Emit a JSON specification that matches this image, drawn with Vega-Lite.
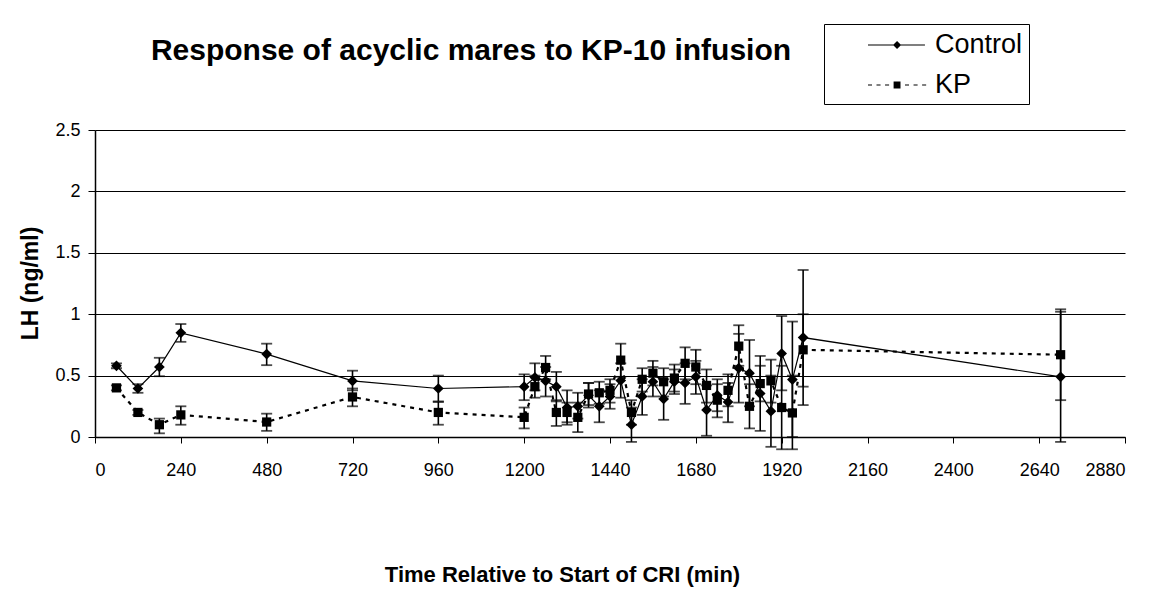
{
  "$schema": "https://vega.github.io/schema/vega-lite/v6.json",
  "width": 1030,
  "height": 307,
  "autosize": {"type": "none"},
  "padding": {"left": 95, "top": 130, "right": 25, "bottom": 174},
  "background": "white",
  "title": {
    "text": "Response of acyclic mares to KP-10 infusion",
    "font": "Liberation Sans",
    "fontSize": 30,
    "fontWeight": "bold",
    "color": "black",
    "anchor": "middle",
    "frame": "group",
    "dx": -139,
    "offset": -42
  },
  "config": {
    "view": {"stroke": null},
    "font": "Liberation Sans",
    "axis": {
      "labelFont": "Liberation Sans",
      "titleFont": "Liberation Sans",
      "labelColor": "black",
      "titleColor": "black",
      "domainColor": "black",
      "tickColor": "black",
      "domainWidth": 1.5,
      "tickWidth": 1
    }
  },
  "data": {
    "values": [
      {"t": 60, "s": "Control", "v": 0.58, "lo": 0.56, "hi": 0.6},
      {"t": 120, "s": "Control", "v": 0.395, "lo": 0.36, "hi": 0.43},
      {"t": 180, "s": "Control", "v": 0.57, "lo": 0.495, "hi": 0.645},
      {"t": 240, "s": "Control", "v": 0.848, "lo": 0.775, "hi": 0.92},
      {"t": 480, "s": "Control", "v": 0.675, "lo": 0.585, "hi": 0.76},
      {"t": 720, "s": "Control", "v": 0.457, "lo": 0.38, "hi": 0.54},
      {"t": 960, "s": "Control", "v": 0.395, "lo": 0.29, "hi": 0.5},
      {"t": 1200, "s": "Control", "v": 0.41, "lo": 0.3, "hi": 0.51},
      {"t": 1230, "s": "Control", "v": 0.485, "lo": 0.38, "hi": 0.6},
      {"t": 1260, "s": "Control", "v": 0.457, "lo": 0.33, "hi": 0.57},
      {"t": 1290, "s": "Control", "v": 0.41, "lo": 0.29, "hi": 0.53},
      {"t": 1320, "s": "Control", "v": 0.24, "lo": 0.1, "hi": 0.38},
      {"t": 1350, "s": "Control", "v": 0.25, "lo": 0.15, "hi": 0.36},
      {"t": 1380, "s": "Control", "v": 0.34, "lo": 0.24, "hi": 0.44},
      {"t": 1410, "s": "Control", "v": 0.25, "lo": 0.12, "hi": 0.38},
      {"t": 1440, "s": "Control", "v": 0.33, "lo": 0.23, "hi": 0.43},
      {"t": 1470, "s": "Control", "v": 0.46, "lo": 0.32, "hi": 0.6},
      {"t": 1500, "s": "Control", "v": 0.1, "lo": -0.04, "hi": 0.24},
      {"t": 1530, "s": "Control", "v": 0.33, "lo": 0.18, "hi": 0.47},
      {"t": 1560, "s": "Control", "v": 0.45, "lo": 0.33, "hi": 0.57},
      {"t": 1590, "s": "Control", "v": 0.31, "lo": 0.14, "hi": 0.47},
      {"t": 1620, "s": "Control", "v": 0.45, "lo": 0.35, "hi": 0.55},
      {"t": 1650, "s": "Control", "v": 0.44, "lo": 0.27, "hi": 0.6},
      {"t": 1680, "s": "Control", "v": 0.49, "lo": 0.35, "hi": 0.62},
      {"t": 1710, "s": "Control", "v": 0.22, "lo": 0.01, "hi": 0.42},
      {"t": 1740, "s": "Control", "v": 0.34, "lo": 0.21, "hi": 0.47},
      {"t": 1770, "s": "Control", "v": 0.285, "lo": 0.12, "hi": 0.44},
      {"t": 1800, "s": "Control", "v": 0.56, "lo": 0.28, "hi": 0.84},
      {"t": 1830, "s": "Control", "v": 0.52, "lo": 0.25, "hi": 0.79},
      {"t": 1860, "s": "Control", "v": 0.354, "lo": 0.05, "hi": 0.66},
      {"t": 1890, "s": "Control", "v": 0.21, "lo": -0.08, "hi": 0.5},
      {"t": 1920, "s": "Control", "v": 0.68, "lo": 0.38, "hi": 0.985},
      {"t": 1950, "s": "Control", "v": 0.468, "lo": 0.0, "hi": 0.94},
      {"t": 1980, "s": "Control", "v": 0.81, "lo": 0.26, "hi": 1.36},
      {"t": 2700, "s": "Control", "v": 0.49, "lo": -0.04, "hi": 1.02},
      {"t": 60, "s": "KP", "v": 0.4, "lo": 0.38, "hi": 0.42},
      {"t": 120, "s": "KP", "v": 0.2, "lo": 0.18, "hi": 0.22},
      {"t": 180, "s": "KP", "v": 0.1, "lo": 0.03, "hi": 0.15},
      {"t": 240, "s": "KP", "v": 0.18, "lo": 0.1, "hi": 0.25},
      {"t": 480, "s": "KP", "v": 0.122, "lo": 0.05, "hi": 0.19},
      {"t": 720, "s": "KP", "v": 0.326, "lo": 0.25, "hi": 0.395},
      {"t": 960, "s": "KP", "v": 0.2, "lo": 0.1, "hi": 0.285},
      {"t": 1200, "s": "KP", "v": 0.16, "lo": 0.07, "hi": 0.24},
      {"t": 1230, "s": "KP", "v": 0.41, "lo": 0.32, "hi": 0.5},
      {"t": 1260, "s": "KP", "v": 0.566, "lo": 0.47, "hi": 0.66},
      {"t": 1290, "s": "KP", "v": 0.2, "lo": 0.09, "hi": 0.3},
      {"t": 1320, "s": "KP", "v": 0.2, "lo": 0.12, "hi": 0.28},
      {"t": 1350, "s": "KP", "v": 0.16, "lo": 0.04, "hi": 0.28},
      {"t": 1380, "s": "KP", "v": 0.35, "lo": 0.26, "hi": 0.44},
      {"t": 1410, "s": "KP", "v": 0.36, "lo": 0.27, "hi": 0.45},
      {"t": 1440, "s": "KP", "v": 0.38, "lo": 0.28, "hi": 0.47},
      {"t": 1470, "s": "KP", "v": 0.626, "lo": 0.49, "hi": 0.76},
      {"t": 1500, "s": "KP", "v": 0.2, "lo": 0.1, "hi": 0.3},
      {"t": 1530, "s": "KP", "v": 0.47, "lo": 0.37, "hi": 0.56},
      {"t": 1560, "s": "KP", "v": 0.52, "lo": 0.42, "hi": 0.62},
      {"t": 1590, "s": "KP", "v": 0.45, "lo": 0.33, "hi": 0.56},
      {"t": 1620, "s": "KP", "v": 0.48, "lo": 0.37, "hi": 0.59},
      {"t": 1650, "s": "KP", "v": 0.6, "lo": 0.47, "hi": 0.73},
      {"t": 1680, "s": "KP", "v": 0.57, "lo": 0.43, "hi": 0.71},
      {"t": 1710, "s": "KP", "v": 0.42, "lo": 0.28, "hi": 0.55},
      {"t": 1740, "s": "KP", "v": 0.3, "lo": 0.16, "hi": 0.43},
      {"t": 1770, "s": "KP", "v": 0.38, "lo": 0.25, "hi": 0.51},
      {"t": 1800, "s": "KP", "v": 0.74, "lo": 0.58, "hi": 0.91},
      {"t": 1830, "s": "KP", "v": 0.25, "lo": 0.07, "hi": 0.43},
      {"t": 1860, "s": "KP", "v": 0.435, "lo": 0.29, "hi": 0.58},
      {"t": 1890, "s": "KP", "v": 0.457, "lo": 0.28, "hi": 0.63},
      {"t": 1920, "s": "KP", "v": 0.24, "lo": -0.1, "hi": 0.58},
      {"t": 1950, "s": "KP", "v": 0.196, "lo": -0.1, "hi": 0.5},
      {"t": 1980, "s": "KP", "v": 0.71, "lo": 0.41, "hi": 1.0},
      {"t": 2700, "s": "KP", "v": 0.67, "lo": 0.3, "hi": 1.04}
    ]
  },
  "encoding": {
    "x": {
      "field": "t",
      "type": "quantitative",
      "scale": {"domain": [0, 2880], "nice": false, "zero": false},
      "axis": {
        "values": [0, 240, 480, 720, 960, 1200, 1440, 1680, 1920, 2160, 2400, 2640, 2880],
        "format": "d",
        "grid": false,
        "labelFontSize": 18,
        "labelPadding": 18,
        "tickSize": 6,
        "title": "Time Relative to Start of CRI (min)",
        "titleFontSize": 22,
        "titleFontWeight": "bold",
        "titleX": 467,
        "titleY": 127,
        "titleAlign": "center",
        "titleBaseline": "top"
      }
    }
  },
  "layer": [
    {
      "transform": [{"filter": {"field": "s", "equal": "Control"}}],
      "mark": {"type": "line", "color": "black", "strokeWidth": 1.2},
      "encoding": {
        "y": {
          "field": "v",
          "type": "quantitative",
          "scale": {"domain": [0, 2.5], "nice": false},
          "axis": {
            "values": [0, 0.5, 1, 1.5, 2, 2.5],
            "format": "~g",
            "grid": true,
            "gridColor": "black",
            "gridWidth": 1,
            "gridOpacity": 1,
            "labelFontSize": 18,
            "labelPadding": 8,
            "tickSize": 7,
            "title": "LH (ng/ml)",
            "titleFontSize": 23,
            "titleFontWeight": "bold",
            "titleAngle": -90,
            "titleX": -65,
            "titleY": 153,
            "titleAlign": "center",
            "titleBaseline": "middle"
          }
        }
      }
    },
    {
      "transform": [{"filter": {"field": "s", "equal": "KP"}}],
      "mark": {"type": "line", "color": "black", "strokeWidth": 2.2, "strokeDash": [4, 5]},
      "encoding": {
        "y": {"field": "v", "type": "quantitative"}
      }
    },
    {
      "mark": {"type": "rule", "color": "black", "strokeWidth": 1.6},
      "encoding": {
        "y": {"field": "lo", "type": "quantitative"},
        "y2": {"field": "hi"}
      }
    },
    {
      "mark": {"type": "tick", "color": "black", "orient": "horizontal", "size": 11, "thickness": 1.8},
      "encoding": {
        "y": {"field": "lo", "type": "quantitative"}
      }
    },
    {
      "mark": {"type": "tick", "color": "black", "orient": "horizontal", "size": 11, "thickness": 1.8},
      "encoding": {
        "y": {"field": "hi", "type": "quantitative"}
      }
    },
    {
      "transform": [{"filter": {"field": "s", "equal": "Control"}}],
      "mark": {"type": "point", "shape": "diamond", "filled": true, "color": "black", "opacity": 1, "size": 115},
      "encoding": {
        "y": {"field": "v", "type": "quantitative"}
      }
    },
    {
      "transform": [{"filter": {"field": "s", "equal": "KP"}}],
      "mark": {"type": "point", "shape": "square", "filled": true, "color": "black", "opacity": 1, "size": 85},
      "encoding": {
        "y": {"field": "v", "type": "quantitative"}
      }
    },
    {
      "mark": {"type": "point", "filled": true, "color": "black", "opacity": 1, "size": 0},
      "encoding": {
        "y": {"field": "v", "type": "quantitative"},
        "shape": {
          "field": "s",
          "type": "nominal",
          "scale": {
            "domain": ["Control", "KP"],
            "range": [
              "M1.53,-0.04H5.33V0.04H1.53Z M3.47,-0.27L3.74,0L3.47,0.27L3.2,0Z",
              "M1.53,-0.04H1.8V0.04H1.53Z M2.1,-0.04H2.37V0.04H2.1Z M2.67,-0.04H2.94V0.04H2.67Z M4.0,-0.04H4.27V0.04H4.0Z M4.57,-0.04H4.84V0.04H4.57Z M5.14,-0.04H5.41V0.04H5.14Z M3.24,-0.23H3.7V0.23H3.24Z"
            ]
          },
          "legend": {
            "title": null,
            "orient": "none",
            "legendX": 729,
            "legendY": -106,
            "direction": "vertical",
            "padding": 6,
            "strokeColor": "black",
            "fillColor": "white",
            "labelFont": "Liberation Sans",
            "labelFontSize": 27,
            "labelColor": "black",
            "labelOffset": 75,
            "rowPadding": 12,
            "symbolSize": 900,
            "symbolOpacity": 1,
            "symbolFillColor": "black",
            "symbolStrokeColor": "black",
            "symbolStrokeWidth": 0
          }
        }
      }
    }
  ]
}
